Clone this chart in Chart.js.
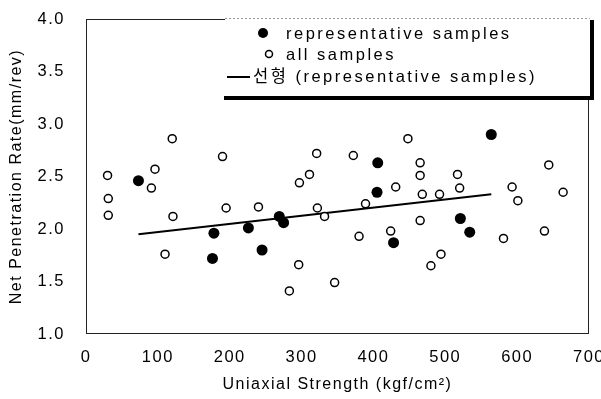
<!DOCTYPE html>
<html>
<head>
<meta charset="utf-8">
<script src="https://cdn.jsdelivr.net/npm/chart.js@4/dist/chart.umd.min.js"></script>
<style>
  html, body { margin: 0; padding: 0; background: #fff; }
  #chart { display: block; }
</style>
</head>
<body>
<canvas id="chart" width="601" height="399"></canvas>
<script>
// representative samples (filled dots)
const repStrength = [73, 176, 178, 226, 245, 269, 275, 405, 406, 428, 521, 534, 564];
const repRate = [2.46, 1.72, 1.96, 2.01, 1.80, 2.12, 2.06, 2.35, 2.63, 1.87, 2.10, 1.97, 2.90];

// all samples (open dots)
const allStrength = [30, 31, 31, 91, 96, 110, 120, 121, 190, 195,
  240, 283, 296, 297, 311, 321, 322, 332, 346, 372, 380, 389, 424, 431, 448,
  465, 465, 465, 468, 480, 492, 494, 517, 520, 581, 593, 601, 638, 644, 664];
const allRate = [2.51, 2.29, 2.13, 2.39, 2.57, 1.76, 2.86, 2.12, 2.69, 2.20,
  2.21, 1.41, 1.66, 2.44, 2.52, 2.72, 2.20, 2.12, 1.49, 2.70, 1.93, 2.24, 1.98, 2.40, 2.86,
  2.63, 2.51, 2.08, 2.33, 1.65, 2.33, 1.76, 2.52, 2.39, 1.91, 2.40, 2.27, 1.98, 2.61, 2.35];

// linear trend (선형) of the representative samples, end points
const trendStrength = [73, 564];
const trendRate = [1.95, 2.33];

const xTicks = [0, 100, 200, 300, 400, 500, 600, 700];
const yTicks = [1.0, 1.5, 2.0, 2.5, 3.0, 3.5, 4.0];

const legendLabels = ['representative samples', 'all samples', '선형 (representative samples)'];

const FONT = "'Liberation Sans', Arial, 'Noto Sans CJK KR', sans-serif";
const SPACING = '1.5px';
const LEGEND_SPACING = '2.5px';

function toPoints(xs, ys) {
    return xs.map((x, i) => ({ x: x, y: ys[i] }));
}

Chart.defaults.color = '#000';
Chart.defaults.font.family = FONT;
Chart.defaults.font.size = 16;

// wide letter spacing like the scanned figure
const spacingPlugin = {
    id: 'spacing',
    beforeLayout(chart) { chart.ctx.letterSpacing = SPACING; },
    beforeDraw(chart) { chart.ctx.letterSpacing = SPACING; }
};

// plot frame
const framePlugin = {
    id: 'frame',
    beforeDatasetsDraw(chart) {
        const { ctx, chartArea: a } = chart;
        ctx.save();
        ctx.strokeStyle = '#222';
        ctx.lineWidth = 1;
        ctx.strokeRect(a.left + 0.5, a.top + 0.5, a.right - a.left - 1, a.bottom - a.top - 1);
        ctx.restore();
    }
};

// legend box with heavy right/bottom edge
const legendPlugin = {
    id: 'boxLegend',
    afterDraw(chart) {
        const ctx = chart.ctx;
        const rep = chart.data.datasets[1];
        const all = chart.data.datasets[0];
        const trend = chart.data.datasets[2];
        ctx.save();
        ctx.letterSpacing = LEGEND_SPACING;
        ctx.fillStyle = '#fff';
        ctx.fillRect(225, 18, 366, 79);
        ctx.strokeStyle = '#999';
        ctx.lineWidth = 1;
        ctx.setLineDash([2, 2]);
        ctx.beginPath();
        ctx.moveTo(225, 18.5);
        ctx.lineTo(590, 18.5);
        ctx.stroke();
        ctx.setLineDash([]);
        ctx.fillStyle = '#000';
        ctx.fillRect(590, 20, 4, 80);
        ctx.fillRect(224, 96, 370, 4);

        ctx.font = '16.5px ' + FONT;
        ctx.textBaseline = 'middle';
        ctx.textAlign = 'left';

        // row 1: filled dot
        ctx.beginPath();
        ctx.arc(263, 33, 5, 0, Math.PI * 2);
        ctx.fillStyle = rep.backgroundColor;
        ctx.fill();
        ctx.fillStyle = '#000';
        ctx.fillText(legendLabels[0], 286, 34);

        // row 2: open dot
        ctx.beginPath();
        ctx.arc(269, 54, 3.5, 0, Math.PI * 2);
        ctx.fillStyle = all.backgroundColor;
        ctx.fill();
        ctx.lineWidth = 1.5;
        ctx.strokeStyle = all.borderColor;
        ctx.stroke();
        ctx.fillStyle = '#000';
        ctx.fillText(legendLabels[1], 286, 55);

        // row 3: line
        ctx.beginPath();
        ctx.moveTo(227, 77);
        ctx.lineTo(250, 77);
        ctx.lineWidth = trend.borderWidth;
        ctx.strokeStyle = trend.borderColor;
        ctx.stroke();
        ctx.fillText(legendLabels[2], 253, 77);
        ctx.restore();
    }
};

const ctx = document.getElementById('chart').getContext('2d');
const chart = new Chart(ctx, {
    type: 'scatter',
    data: {
        datasets: [
            {
                label: legendLabels[1],
                data: toPoints(allStrength, allRate),
                pointRadius: 4,
                pointBorderWidth: 1.5,
                borderColor: '#000',
                backgroundColor: '#fff'
            },
            {
                label: legendLabels[0],
                data: toPoints(repStrength, repRate),
                pointRadius: 5.5,
                pointBorderWidth: 0,
                borderColor: '#000',
                backgroundColor: '#000'
            },
            {
                type: 'line',
                label: legendLabels[2],
                data: toPoints(trendStrength, trendRate),
                showLine: true,
                pointRadius: 0,
                borderColor: '#000',
                borderWidth: 2,
                fill: false
            }
        ]
    },
    options: {
        responsive: false,
        animation: false,
        devicePixelRatio: 1,
        layout: { padding: { left: 0, right: 12, top: 19, bottom: 0 } },
        plugins: {
            legend: { display: false },
            tooltip: { enabled: false }
        },
        scales: {
            x: {
                type: 'linear',
                min: 0,
                max: 700,
                grid: { display: false, drawTicks: false },
                border: { display: false },
                ticks: { padding: 14, font: { size: 16.5 } },
                afterBuildTicks: (scale) => { scale.ticks = xTicks.map(v => ({ value: v })); },
                afterFit: (scale) => {
                    scale.height = 65;
                    scale.paddingLeft = 0;
                    scale.paddingRight = 0;
                },
                title: {
                    display: true,
                    text: 'Uniaxial Strength (kgf/cm²)',
                    font: { size: 16 },
                    padding: { top: 0, bottom: 5 }
                }
            },
            y: {
                type: 'linear',
                min: 1,
                max: 4,
                grid: { display: false, drawTicks: false },
                border: { display: false },
                ticks: {
                    padding: 21,
                    font: { size: 16.5 },
                    callback: (v) => Number(v).toFixed(1)
                },
                afterBuildTicks: (scale) => { scale.ticks = yTicks.map(v => ({ value: v })); },
                afterFit: (scale) => {
                    scale.width = 86;
                    scale.paddingTop = 0;
                    scale.paddingBottom = 0;
                },
                title: {
                    display: true,
                    text: 'Net Penetration Rate(mm/rev)',
                    font: { size: 16 },
                    padding: { top: 7, bottom: 0 }
                }
            }
        }
    },
    plugins: [spacingPlugin, framePlugin, legendPlugin]
});
</script>
</body>
</html>
